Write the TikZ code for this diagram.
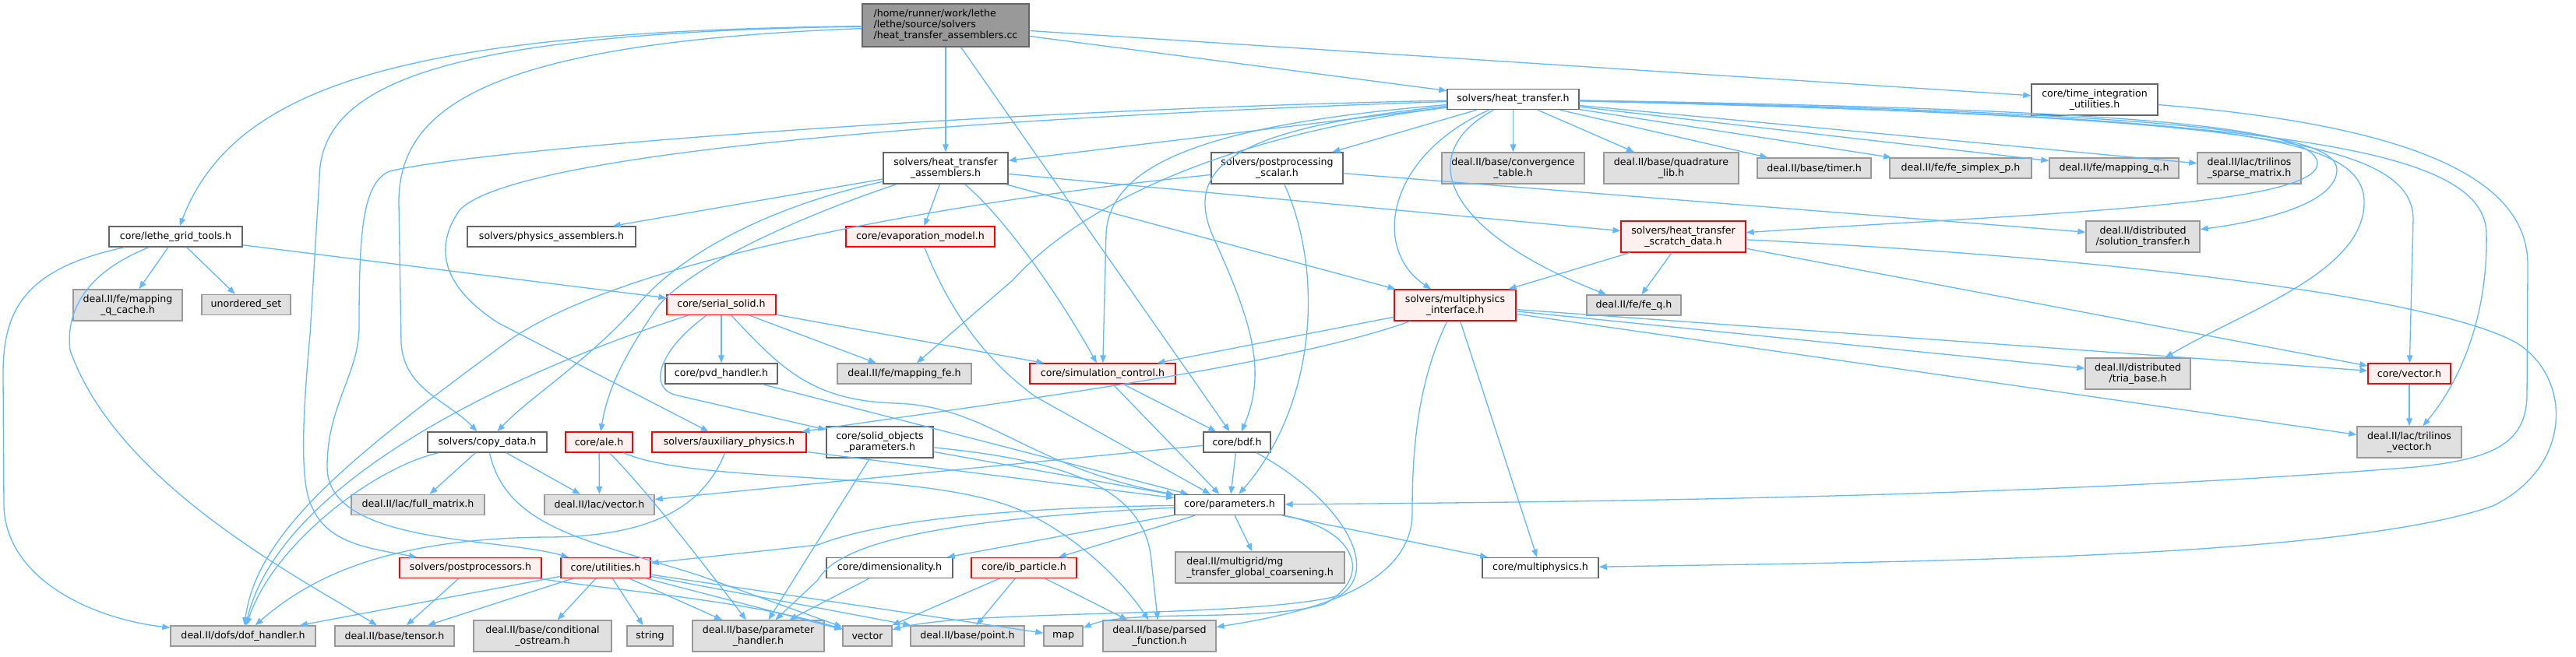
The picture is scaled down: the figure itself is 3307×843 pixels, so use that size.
\documentclass[tikz,border=0pt]{standalone}
\usepackage{fontspec}
\newfontfamily\dfont{DejaVu Sans}
\usetikzlibrary{arrows.meta}
\definecolor{edgec}{HTML}{63B8FF}
\definecolor{gfill}{HTML}{E0E0E0}
\definecolor{gdraw}{HTML}{999999}
\definecolor{wdraw}{HTML}{666666}
\definecolor{rfill}{HTML}{FFF0F0}
\definecolor{mfill}{HTML}{999999}
\tikzset{
  nbase/.style={draw, line width=0.7pt, inner sep=0pt, align=center, font=\dfont\fontsize{6.3}{7}\selectfont},
  sz/.style 2 args={minimum width=#1*0.5pt, minimum height=#2*0.5pt},
  wbox/.style={nbase, draw=wdraw, fill=white},
  gbox/.style={nbase, draw=gdraw, fill=gfill},
  rbox/.style={nbase, draw=red, fill=rfill, line width=0.6pt},
  mbox/.style={nbase, draw=wdraw, fill=mfill},
  dep/.style={draw=edgec, line width=0.65pt, -{Triangle[length=5pt,width=3.8pt]}}
}
\begin{document}
\begin{tikzpicture}[x=0.5pt,y=-0.5pt]
\useasboundingbox[fill=white] (0,0) rectangle (3307,843);

% ---------- nodes ----------
\node[mbox,sz={214}{55},align=left] (main) at (1214,32.5) {/home/runner/work/lethe\\/lethe/source/solvers\\/heat\_transfer\_assemblers.cc};
\node[wbox,sz={169}{26}] (ht) at (1942.5,127.5) {solvers/heat\_transfer.h};
\node[wbox,sz={162}{40}] (tiu) at (2689,128) {core/time\_integration\\\_utilities.h};
\node[wbox,sz={160}{40}] (ha) at (1214,216) {solvers/heat\_transfer\\\_assemblers.h};
\node[wbox,sz={169}{40}] (pps) at (1639.5,216) {solvers/postprocessing\\\_scalar.h};
\node[gbox,sz={183}{40}] (conv) at (1942.5,216) {deal.II/base/convergence\\\_table.h};
\node[gbox,sz={173}{40}] (quad) at (2145.5,216) {deal.II/base/quadrature\\\_lib.h};
\node[gbox,sz={146}{26}] (timer) at (2329,216) {deal.II/base/timer.h};
\node[gbox,sz={182}{26}] (fesp) at (2517,216) {deal.II/fe/fe\_simplex\_p.h};
\node[gbox,sz={166}{26}] (mapq) at (2714,216) {deal.II/fe/mapping\_q.h};
\node[gbox,sz={133}{40}] (tsm) at (2887.5,216) {deal.II/lac/trilinos\\\_sparse\_matrix.h};
\node[wbox,sz={171}{26}] (lgt) at (225.5,304) {core/lethe\_grid\_tools.h};
\node[wbox,sz={216}{26}] (pa) at (708,304) {solvers/physics\_assemblers.h};
\node[rbox,sz={191}{26}] (evap) at (1181.5,304) {core/evaporation\_model.h};
\node[rbox,sz={160}{40}] (sd) at (2161,304) {solvers/heat\_transfer\\\_scratch\_data.h};
\node[gbox,sz={146}{40}] (st) at (2751,304) {deal.II/distributed\\/solution\_transfer.h};
\node[gbox,sz={140}{40}] (mqc) at (164,392) {deal.II/fe/mapping\\\_q\_cache.h};
\node[gbox,sz={114}{26}] (us) at (316,391.5) {unordered\_set};
\node[rbox,sz={140}{26}] (ss) at (926,391.5) {core/serial\_solid.h};
\node[rbox,sz={156}{40}] (mpi) at (1868,392) {solvers/multiphysics\\\_interface.h};
\node[gbox,sz={121}{26}] (feq) at (2097.5,392) {deal.II/fe/fe\_q.h};
\node[wbox,sz={144}{26}] (pvd) at (926,480) {core/pvd\_handler.h};
\node[gbox,sz={172}{26}] (mfe) at (1161,480) {deal.II/fe/mapping\_fe.h};
\node[rbox,sz={187}{26}] (sc) at (1415.5,480) {core/simulation\_control.h};
\node[gbox,sz={135}{40}] (tb) at (2744.5,480) {deal.II/distributed\\/tria\_base.h};
\node[rbox,sz={106}{26}] (cv) at (3093,480) {core/vector.h};
\node[wbox,sz={153}{26}] (cd) at (625.5,568) {solvers/copy\_data.h};
\node[rbox,sz={86}{26}] (ale) at (769,568) {core/ale.h};
\node[rbox,sz={198}{26}] (aux) at (936,568) {solvers/auxiliary\_physics.h};
\node[wbox,sz={137}{40}] (sop) at (1129.5,568) {core/solid\_objects\\\_parameters.h};
\node[wbox,sz={86}{26}] (bdf) at (1588,568) {core/bdf.h};
\node[gbox,sz={134}{40}] (tv) at (3093,568) {deal.II/lac/trilinos\\\_vector.h};
\node[gbox,sz={171}{26}] (fm) at (536.5,648.5) {deal.II/lac/full\_matrix.h};
\node[gbox,sz={141}{26}] (lv) at (769.5,648.5) {deal.II/lac/vector.h};
\node[wbox,sz={141}{26}] (par) at (1578.5,648.5) {core/parameters.h};
\node[rbox,sz={182}{26}] (pp) at (604,729.5) {solvers/postprocessors.h};
\node[rbox,sz={115}{26}] (ut) at (777.5,729.5) {core/utilities.h};
\node[wbox,sz={162}{26}] (dim) at (1142,729.5) {core/dimensionality.h};
\node[rbox,sz={135}{26}] (ib) at (1314.5,729.5) {core/ib\_particle.h};
\node[gbox,sz={217}{40},align=left] (mg) at (1617.5,729) {deal.II/multigrid/mg\\\_transfer\_global\_coarsening.h};
\node[wbox,sz={149}{26}] (mph) at (1977.5,729.5) {core/multiphysics.h};
\node[gbox,sz={186}{26}] (dof) at (312,817) {deal.II/dofs/dof\_handler.h};
\node[gbox,sz={153}{26}] (ten) at (506.5,817) {deal.II/base/tensor.h};
\node[gbox,sz={177}{40}] (cos) at (696.5,817) {deal.II/base/conditional\\\_ostream.h};
\node[gbox,sz={59}{26}] (str) at (834.5,817) {string};
\node[gbox,sz={169}{40}] (ph) at (973.5,817) {deal.II/base/parameter\\\_handler.h};
\node[gbox,sz={63}{26}] (vec) at (1113.5,817) {vector};
\node[gbox,sz={146}{26}] (pt) at (1242,817) {deal.II/base/point.h};
\node[gbox,sz={50}{26}] (map) at (1365,817) {map};
\node[gbox,sz={145}{40}] (pf) at (1488.5,817) {deal.II/base/parsed\\\_function.h};

% ---------- edges ----------
% main file
\draw[dep] (main) .. controls (520,40) and (300,110) .. (lgt);
\draw[dep] (main) .. controls (560,42) and (410,110) .. (410,230) -- (398,430) .. controls (388,540) and (385,620) .. (400,650) .. controls (420,700) and (480,705) .. (pp);
\draw[dep] (main) .. controls (620,55) and (512,140) .. (512,260) -- (515,440) .. controls (518,500) and (575,515) .. (cd);
\draw[dep] (main) -- (ha);
\draw[dep] (main) -- (bdf);
\draw[dep] (main) -- (ht);
\draw[dep] (main) -- (tiu);
% heat_transfer.h
\draw[dep] (ht) -- (ha);
\draw[dep] (ht) -- (pps);
\draw[dep] (ht) -- (conv);
\draw[dep] (ht) -- (quad);
\draw[dep] (ht) -- (timer);
\draw[dep] (ht) -- (fesp);
\draw[dep] (ht) -- (mapq);
\draw[dep] (ht) -- (tsm);
\draw[dep] (ht) .. controls (2700,140) and (2975,160) .. (2975,210) .. controls (2975,265) and (2600,275) .. (sd);
\draw[dep] (ht) .. controls (2800,145) and (3000,170) .. (3000,218) .. controls (3000,262) and (2900,285) .. (st);
\draw[dep] (ht) .. controls (2850,150) and (3035,170) .. (3035,260) .. controls (3035,350) and (2880,400) .. (tb);
\draw[dep] (ht) .. controls (2850,150) and (3095,175) .. (3098,280) -- (cv);
\draw[dep] (ht) .. controls (2900,150) and (3190,185) .. (3192,300) .. controls (3194,420) and (3150,500) .. (tv);
\draw[dep] (ht) .. controls (1780,200) and (1760,320) .. (mpi);
\draw[dep] (ht) .. controls (1810,200) and (1860,300) .. (feq);
\draw[dep] (ht) .. controls (1600,170) and (1400,250) .. (1300,360) -- (mfe);
\draw[dep] (ht) .. controls (1550,160) and (1425,210) .. (1420,300) -- (sc);
\draw[dep] (ht) .. controls (1580,165) and (1515,215) .. (1560,310) .. controls (1610,420) and (1625,480) .. (bdf);
\draw[dep] (ht) .. controls (1300,140) and (620,190) .. (500,220) .. controls (465,235) and (461,300) .. (461,420) .. controls (461,480) and (420,520) .. (420,600) .. controls (420,700) and (640,690) .. (ut);
\draw[dep] (ht) .. controls (1000,160) and (640,215) .. (590,270) .. controls (555,320) and (570,370) .. (640,415) -- (aux);
% heat_transfer_assemblers.h
\draw[dep] (ha) -- (pa);
\draw[dep] (ha) -- (evap);
\draw[dep] (ha) .. controls (1290,280) and (1360,380) .. (sc);
\draw[dep] (ha) -- (mpi);
\draw[dep] (ha) -- (sd);
\draw[dep] (ha) .. controls (1000,262) and (880,320) .. (820,390) .. controls (760,460) and (680,510) .. (cd);
\draw[dep] (ha) .. controls (1050,270) and (880,340) .. (840,400) .. controls (800,460) and (780,500) .. (ale);
% postprocessing_scalar.h
\draw[dep] (pps) .. controls (1250,255) and (800,330) .. (650,440) .. controls (460,580) and (330,680) .. (dof);
\draw[dep] (pps) .. controls (1700,350) and (1690,520) .. (par);
\draw[dep] (pps) -- (st);
% time_integration_utilities.h
\draw[dep] (tiu) .. controls (3150,165) and (3245,250) .. (3245,340) -- (3244,510) .. controls (3242,570) and (3200,590) .. (3100,600) .. controls (2600,640) and (2000,645) .. (par);
% lethe_grid_tools.h
\draw[dep] (lgt) -- (mqc);
\draw[dep] (lgt) -- (us);
\draw[dep] (lgt) -- (ss);
\draw[dep] (lgt) .. controls (30,345) and (4,400) .. (4,480) -- (5,650) .. controls (8,745) and (120,795) .. (dof);
\draw[dep] (lgt) .. controls (110,350) and (84,400) .. (90,450) .. controls (150,620) and (380,740) .. (ten);
% serial_solid.h
\draw[dep] (ss) .. controls (650,480) and (360,620) .. (dof);
\draw[dep] (ss) .. controls (845,450) and (830,500) .. (870,508) -- (sop);
\draw[dep] (ss) -- (pvd);
\draw[dep] (ss) -- (mfe);
\draw[dep] (ss) -- (sc);
\draw[dep] (ss) .. controls (1000,470) and (1040,515) .. (1150,518) .. controls (1270,522) and (1320,600) .. (par);
% scratch data
\draw[dep] (sd) -- (mpi);
\draw[dep] (sd) -- (feq);
\draw[dep] (sd) -- (cv);
\draw[dep] (sd) .. controls (2700,330) and (3120,380) .. (3230,440) .. controls (3303,485) and (3303,600) .. (3200,650) .. controls (3000,720) and (2400,722) .. (mph);
% multiphysics_interface.h
\draw[dep] (mpi) -- (sc);
\draw[dep] (mpi) .. controls (1650,470) and (1300,515) .. (aux);
\draw[dep] (mpi) -- (tb);
\draw[dep] (mpi) -- (cv);
\draw[dep] (mpi) -- (tv);
\draw[dep] (mpi) -- (mph);
\draw[dep] (mpi) .. controls (1815,500) and (1813,600) .. (1813,660) .. controls (1812,760) and (1660,790) .. (pf);
% others
\draw[dep] (cv) -- (tv);
\draw[dep] (sc) -- (bdf);
\draw[dep] (sc) -- (par);
\draw[dep] (evap) .. controls (1215,390) and (1260,460) .. (1330,510) -- (par);
\draw[dep] (pvd) -- (par);
\draw[dep] (cd) .. controls (480,600) and (350,700) .. (dof);
\draw[dep] (cd) -- (fm);
\draw[dep] (cd) -- (lv);
\draw[dep] (cd) .. controls (650,680) and (760,695) .. (900,740) -- (vec);
\draw[dep] (ale) -- (lv);
\draw[dep] (ale) .. controls (830,630) and (900,720) .. (ph);
\draw[dep] (ale) .. controls (900,625) and (1200,600) .. (1320,660) .. controls (1400,700) and (1450,760) .. (pf);
\draw[dep] (aux) .. controls (900,660) and (820,690) .. (700,690) .. controls (500,692) and (400,740) .. (dof);
\draw[dep] (aux) -- (par);
\draw[dep] (sop) -- (par);
\draw[dep] (sop) .. controls (1350,590) and (1470,620) .. (1478,720) -- (pf);
\draw[dep] (sop) -- (ph);
\draw[dep] (bdf) -- (par);
\draw[dep] (bdf) -- (lv);
\draw[dep] (bdf) .. controls (1720,640) and (1775,730) .. (1720,765) .. controls (1600,795) and (1250,782) .. (vec);
% parameters.h
\draw[dep] (par) .. controls (1300,652) and (1130,668) .. (1050,700) -- (ut);
\draw[dep] (par) .. controls (1250,665) and (1080,690) .. (1050,745) -- (ph);
\draw[dep] (par) -- (dim);
\draw[dep] (par) -- (ib);
\draw[dep] (par) -- (mg);
\draw[dep] (par) -- (mph);
\draw[dep] (par) .. controls (1740,680) and (1765,740) .. (1700,776) .. controls (1620,800) and (1450,782) .. (map);
% utilities.h
\draw[dep] (ut) -- (dof);
\draw[dep] (ut) -- (ten);
\draw[dep] (ut) -- (cos);
\draw[dep] (ut) -- (str);
\draw[dep] (ut) -- (ph);
\draw[dep] (ut) -- (vec);
\draw[dep] (ut) -- (pt);
\draw[dep] (ut) -- (map);
% postprocessors, dimensionality, ib_particle
\draw[dep] (pp) -- (ten);
\draw[dep] (pp) .. controls (800,760) and (950,770) .. (vec);
\draw[dep] (dim) -- (ph);
\draw[dep] (ib) -- (vec);
\draw[dep] (ib) -- (pt);
\draw[dep] (ib) -- (pf);
\end{tikzpicture}
\end{document}
